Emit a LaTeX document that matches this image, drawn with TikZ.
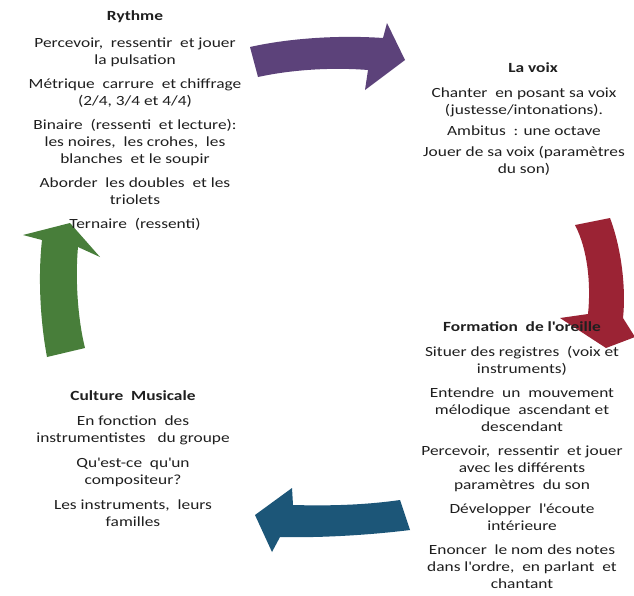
\documentclass[tikz,border=0pt]{standalone}
\usepackage{fontspec}
\setmainfont[FakeStretch=1.24]{Carlito}
\definecolor{arrpurple}{RGB}{92,66,122}
\definecolor{arrred}{RGB}{155,35,52}
\definecolor{arrblue}{RGB}{28,86,120}
\definecolor{arrgreen}{RGB}{72,126,58}
\newcommand{\apos}{\textquotesingle}
\begin{document}
\begin{tikzpicture}[x=1pt,y=-1pt,
  block/.style={align=center, inner sep=0pt, anchor=north, font=\fontsize{14}{17}\selectfont, text=black!88}]
\useasboundingbox (0,0) rectangle (634,595);
\fill[white] (0,0) rectangle (634,595);
% purple arrow (Rythme -> La voix)
\fill[arrpurple] (250,47) .. controls (290,38) and (340,35) .. (383,38) -- (387,23) -- (405,60) -- (365,90) -- (368,70) .. controls (330,67) and (290,70) .. (258,77) -- cycle;
% red arrow (La voix -> Formation)
\fill[arrred] (575,225) -- (610,218) .. controls (622,250) and (626,290) .. (623,318) -- (635,337) -- (606,348) -- (560,318) -- (588,314) .. controls (591,285) and (588,250) .. (575,225) -- cycle;
% blue arrow (Formation -> Culture)
\fill[arrblue] (400,500) .. controls (365,505) and (330,506) .. (293,505) -- (292,488) -- (255,515) -- (272,552) -- (280,537) .. controls (320,538) and (370,535) .. (410,530) -- cycle;
% green arrow (Culture -> Rythme)
\fill[arrgreen] (47,357) .. controls (40,320) and (38,275) .. (42,240) -- (23,235) -- (70,223) -- (100,257) -- (78,247) .. controls (75,280) and (78,320) .. (85,348) -- cycle;

\node[block] (rythme) at (135,10) {\textbf{Rythme}\\[10pt]
Percevoir,~ ressentir~ et jouer\\ la pulsation\\[7pt]
Métrique~ carrure~ et chiffrage\\ (2/4, 3/4 et 4/4)\\[7pt]
Binaire~ (ressenti~ et lecture):\\ les noires,~ les crohes,~ les\\ blanches~ et le soupir\\[7pt]
Aborder~ les doubles~ et les\\ triolets\\[7pt]
Ternaire~ (ressenti)};

\node[block] (voix) at (524,62) {\hspace*{18pt}\textbf{La voix}\\[8pt]
Chanter~ en posant sa voix\\ (justesse/intonations).\\[4pt]
Ambitus~ : une octave\\[4pt]
Jouer de sa voix (paramètres\\ du son)};

\node[block] (oreille) at (522,321) {\textbf{Formation~ de l\apos oreille}\\[8pt]
Situer des registres~ (voix et\\ instruments)\\[7pt]
Entendre~ un~ mouvement\\ mélodique~ ascendant et\\ descendant\\[7pt]
Percevoir,~ ressentir~ et jouer\\ avec les différents\\ paramètres~ du son\\[7pt]
Développer~ l\apos écoute\\ intérieure\\[7pt]
Enoncer~ le nom des notes\\ dans l\apos ordre,~ en parlant~ et\\ chantant};

\node[block] (culture) at (133,390) {\textbf{Culture~ Musicale}\\[8pt]
En fonction~ des\\ instrumentistes~~ du groupe\\[8pt]
Qu\apos est-ce~ qu\apos un\\ compositeur?\\[8pt]
Les instruments,~ leurs\\ familles};
\end{tikzpicture}
\end{document}
